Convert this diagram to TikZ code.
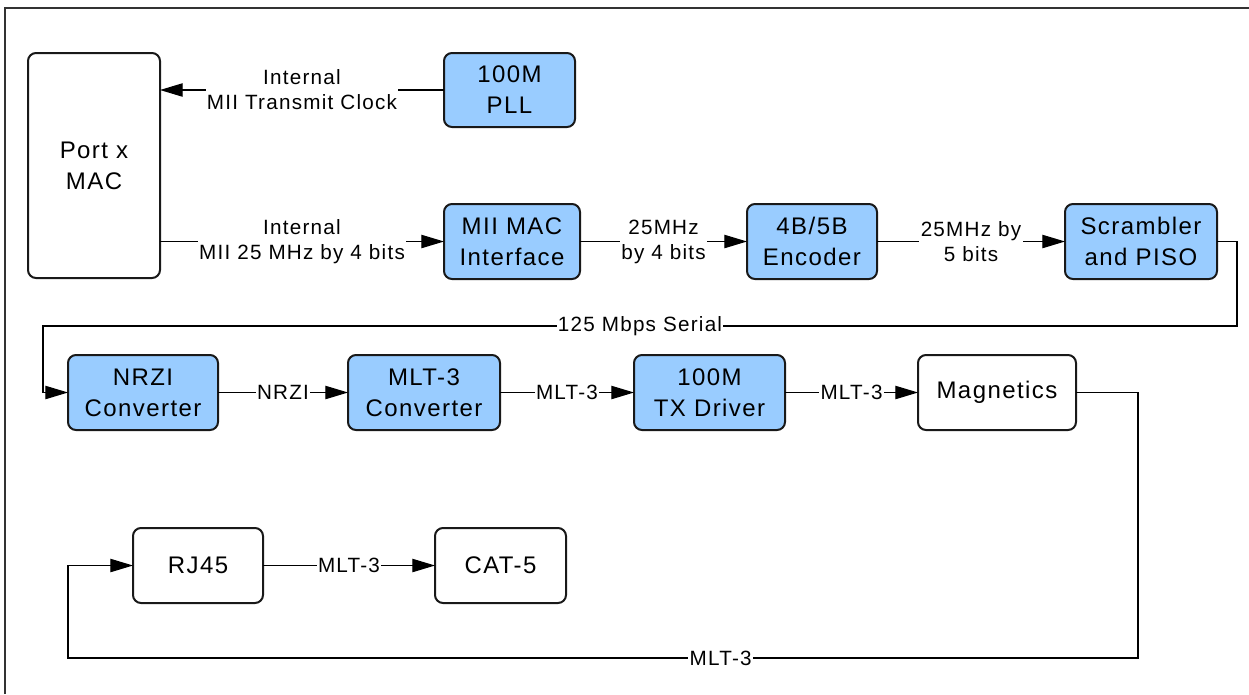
\documentclass[tikz,border=0pt]{standalone}
\usepackage{fontspec}
\setmainfont{Liberation Sans}[LetterSpace=6]
\usetikzlibrary{arrows.meta}
\definecolor{boxblue}{RGB}{153,204,255}
\tikzset{
  sz/.style 2 args={minimum width=#1*0.75pt, minimum height=#2*0.75pt},
  blk/.style={draw=black!90, line width=1.5pt, rounded corners=6pt, inner sep=0pt, outer sep=0pt,
    align=center, font=\fontsize{18}{23.25}\selectfont},
  bluebox/.style={blk, fill=boxblue},
  whitebox/.style={blk, fill=white},
  conn/.style={draw=black, line width=0.9pt, -{Triangle[length=17pt,width=10pt]}},
  lbl/.style={fill=white, inner sep=1pt, align=center, font=\fontsize{15.5}{18.75}\selectfont},
}
\begin{document}
\begin{tikzpicture}[x=0.75pt, y=-0.75pt]
\useasboundingbox (0,0) rectangle (1249,694);
\fill[white] (0,0) rectangle (1249,694);
% frame
\draw[black!80, line width=2.2pt] (5,694) -- (5,8) -- (1249,8);
% nodes
\node[whitebox, sz={132}{225}] (mac) at (94,165.5) {Port x\\MAC};
\node[bluebox, sz={131}{74}] (pll) at (509.5,90) {100M\\PLL};
\node[bluebox, sz={136}{75}] (mii) at (512,241.5) {MII MAC\\Interface};
\node[bluebox, sz={130}{75}] (enc) at (812,241.5) {4B/5B\\Encoder};
\node[bluebox, sz={152}{75}] (scr) at (1141,241.5) {Scrambler\\and PISO};
\node[bluebox, sz={150}{75}] (nrzi) at (143,392.5) {NRZI\\Converter};
\node[bluebox, sz={152}{75}] (mlt) at (424,392.5) {MLT-3\\Converter};
\node[bluebox, sz={151}{75}] (tx) at (709.5,392.5) {100M\\TX Driver};
\node[whitebox, sz={158}{75}] (mag) at (997,392.5) {Magnetics};
\node[whitebox, sz={130}{75}] (rj) at (198,565.5) {RJ45};
\node[whitebox, sz={131}{75}] (cat) at (500.5,565.5) {CAT-5};
% corner coordinates
\coordinate (s1) at (1237,326);
\coordinate (s2) at (43,326);
\coordinate (m1) at (1138,658);
\coordinate (m2) at (68,658);
% connectors
\draw[conn] (pll.west) -- node[lbl]{Internal\\MII Transmit Clock} (pll.west -| mac.east);
\draw[conn] (mac.east |- mii.west) -- node[lbl]{Internal\\MII 25 MHz by 4 bits} (mii.west);
\draw[conn] (mii.east) -- node[lbl]{25MHz\\by 4 bits} (enc.west);
\draw[conn] (enc.east) -- node[lbl]{25MHz by\\5 bits} (scr.west);
\draw[conn] (scr.east) -| (s1) -- node[lbl]{125 Mbps Serial} (s2) |- (nrzi.west);
\draw[conn] (nrzi.east) -- node[lbl]{NRZI} (mlt.west);
\draw[conn] (mlt.east) -- node[lbl]{MLT-3} (tx.west);
\draw[conn] (tx.east) -- node[lbl]{MLT-3} (mag.west);
\draw[conn] (mag.east) -| (m1) -- node[lbl, pos=0.39]{MLT-3} (m2) |- (rj.west);
\draw[conn] (rj.east) -- node[lbl]{MLT-3} (cat.west);
\end{tikzpicture}
\end{document}
